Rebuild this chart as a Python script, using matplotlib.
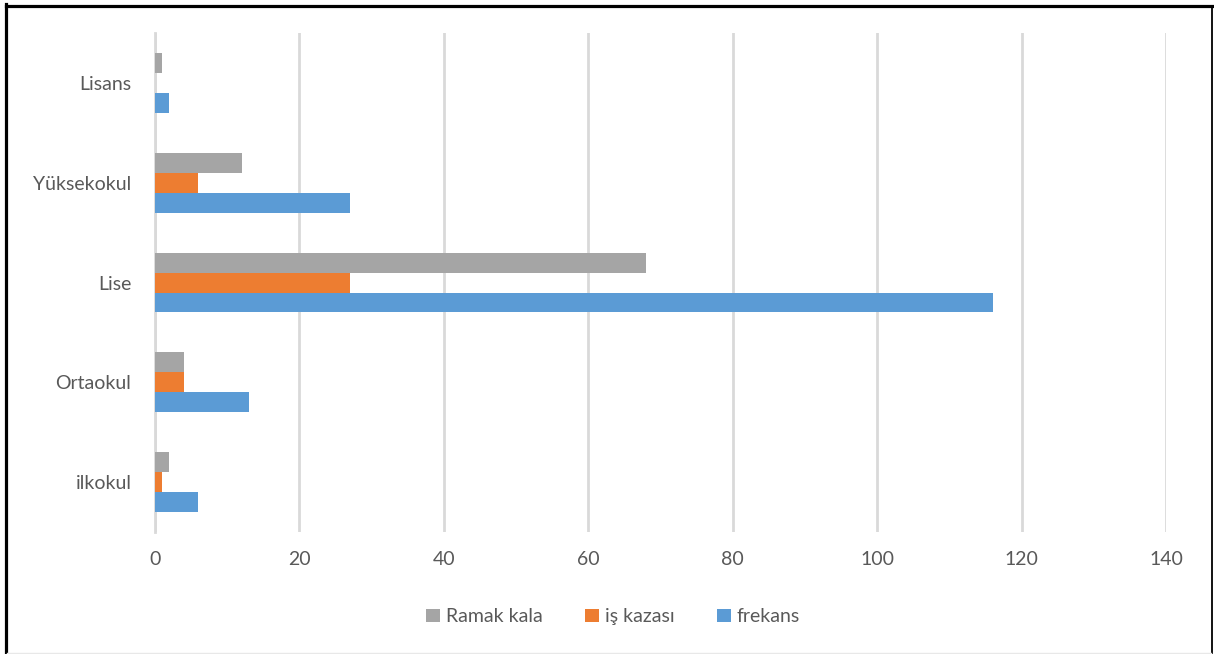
import numpy as np
import matplotlib.pyplot as plt
from matplotlib.lines import Line2D

# education levels, bottom to top
categories = ['ilkokul', 'Ortaokul', 'Lise', 'Yüksekokul', 'Lisans']
frekans = [6, 13, 116, 27, 2]
is_kazasi = [1, 4, 27, 6, 0]
ramak_kala = [2, 4, 68, 12, 1]

plt.rcParams['font.family'] = ['Lato', 'DejaVu Sans']
text_color = '#595959'

fig = plt.figure(figsize=(12.14, 6.54), dpi=100)
ax = fig.add_axes([0.1277, 0.1865, 0.8328, 0.763])

y = np.arange(len(categories))
h = 0.2
ax.barh(y - h, frekans, height=h, color='#5b9bd5', label='frekans', zorder=3)
ax.barh(y, is_kazasi, height=h, color='#ed7d31', label='iş kazası', zorder=3)
ax.barh(y + h, ramak_kala, height=h, color='#a5a5a5', label='Ramak kala', zorder=3)

ax.set_xlim(0, 140)
ax.set_xticks(range(0, 141, 20))
ax.set_ylim(-0.5, len(categories) - 0.5)
ax.set_yticks(y)
ax.set_yticklabels(categories)
ax.grid(axis='x', color='#d9d9d9', linewidth=2, zorder=0)
for s in ['top', 'right', 'bottom']:
    ax.spines[s].set_visible(False)
ax.spines['left'].set_color('#d9d9d9')
ax.spines['left'].set_linewidth(2)
ax.tick_params(length=0, labelsize=14, colors=text_color)
ax.tick_params(axis='x', pad=14)
ax.tick_params(axis='y', pad=17)

handles, labels = ax.get_legend_handles_labels()
fig.legend(handles[::-1], labels[::-1], loc='center', bbox_to_anchor=(0.505, 0.057),
           ncol=3, frameon=False, fontsize=14, labelcolor=text_color,
           handlelength=0.7, handleheight=0.7, handletextpad=0.3, columnspacing=2.2)

# outer frame: black on left, top, right; faint line at the bottom
W, H = 1214, 654
fig.add_artist(Line2D([5.5 / W, 5.5 / W], [0, 1 - 4 / H], color='black', linewidth=2.3,
                      transform=fig.transFigure, solid_capstyle='projecting'))
fig.add_artist(Line2D([5.5 / W, 1212 / W], [1 - 5.5 / H, 1 - 5.5 / H], color='black', linewidth=2.3,
                      transform=fig.transFigure, solid_capstyle='projecting'))
fig.add_artist(Line2D([1212 / W, 1212 / W], [0, 1 - 5.5 / H], color='black', linewidth=1.3,
                      transform=fig.transFigure))
fig.add_artist(Line2D([7 / W, 1211 / W], [1 / H, 1 / H], color='#e8e8e8', linewidth=1,
                      transform=fig.transFigure))

fig.savefig('out.png', dpi=100)
